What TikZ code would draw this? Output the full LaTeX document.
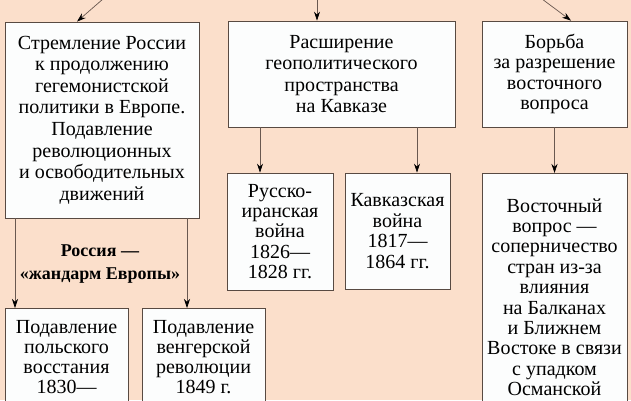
\documentclass[tikz,border=0pt]{standalone}
\usepackage{fontspec}
\setmainfont{Liberation Serif}
\usetikzlibrary{arrows.meta}
\definecolor{peach}{RGB}{251,223,203}
\definecolor{boxline}{RGB}{88,74,66}
\definecolor{arrline}{RGB}{105,88,80}
\definecolor{boxfill}{RGB}{252,253,253}
\tikzset{
  blok/.style={draw=boxline, fill=boxfill, line width=0.8pt, align=center,
    inner sep=0pt, font=\rmfamily\fontsize{20}{20.4}\selectfont},
  strelka/.style={draw=arrline, line width=0.7pt, -{Stealth[length=9pt,width=6pt,black]}}
}

\begin{document}
\begin{tikzpicture}[x=1pt,y=-1pt]
 \useasboundingbox (0,0) rectangle (631,400);
 \clip (0,0) rectangle (631,400);
 \fill[peach] (0,0) rectangle (631,400);
 % top row
 \node[blok, minimum width=194pt, minimum height=196pt, font=\rmfamily\fontsize{20}{21.6}\selectfont] (evropa) at (102,120)
   {Стремление России\\к продолжению\\гегемонистской\\политики в Европе.\\Подавление\\революционных\\и освободительных\\движений};
 \node[blok, minimum width=227pt, minimum height=106pt, font=\rmfamily\fontsize{20}{21.3}\selectfont] (kavkaz) at (341.5,74)
   {Расширение\\геополитического\\пространства\\на Кавказе};
 \node[blok, minimum width=145pt, minimum height=106pt] (vostok) at (554.5,74)
   {Борьба\\за разрешение\\восточного\\вопроса};
 % second row
 \node[blok, minimum width=106pt, minimum height=117pt] (iran) at (280,231.5)
   {Русско-\\иранская\\война\\1826—\\1828 гг.};
 \node[blok, minimum width=105pt, minimum height=116pt] (kavvojna) at (397.5,231)
   {Кавказская\\война\\1817—\\1864 гг.};
 \node[blok, anchor=north, minimum width=145pt, inner ysep=25pt] (vopros) at (554.5,173)
   {Восточный\\вопрос —\\соперничество\\стран из-за\\влияния\\на Балканах\\и Ближнем\\Востоке в связи\\с упадком\\Османской};
 % bottom row
 \node[blok, anchor=north, minimum width=123pt, inner ysep=12pt, font=\rmfamily\fontsize{20}{20}\selectfont] (polsha) at (66.5,308)
   {Подавление\\польского\\восстания\\1830—};
 \node[blok, anchor=north, minimum width=123pt, inner ysep=12pt, font=\rmfamily\fontsize{20}{20}\selectfont] (vengria) at (203.5,308)
   {Подавление\\венгерской\\революции\\1849 г.};
 \node[font=\rmfamily\bfseries\fontsize{18}{23}\selectfont, align=center] (zhandarm) at (100,264)
   {Россия —\\«жандарм Европы»};
 % arrows
 \coordinate (vhodA) at (103,-1);
 \coordinate (vhodB) at (317,-1);
 \coordinate (vhodC) at (542,-1);
 \coordinate (xA) at (77,0);
 \coordinate (xC) at (571,0);
 \coordinate (xA1) at (15,0);
 \coordinate (xA2) at (187,0);
 \coordinate (xB1) at (260,0);
 \coordinate (xB2) at (417,0);
 \draw[strelka] (vhodA) -- (evropa.north -| xA);
 \draw[strelka] (vhodB) -- (kavkaz.north -| vhodB);
 \draw[strelka] (vhodC) -- (vostok.north -| xC);
 \draw[strelka] (evropa.south -| xA1) -- (polsha.north -| xA1);
 \draw[strelka] (evropa.south -| xA2) -- (vengria.north -| xA2);
 \draw[strelka] (kavkaz.south -| xB1) -- (iran.north -| xB1);
 \draw[strelka] (kavkaz.south -| xB2) -- (kavvojna.north -| xB2);
 \draw[strelka] (vostok.south) -- (vopros.north);
\end{tikzpicture}
\end{document}
